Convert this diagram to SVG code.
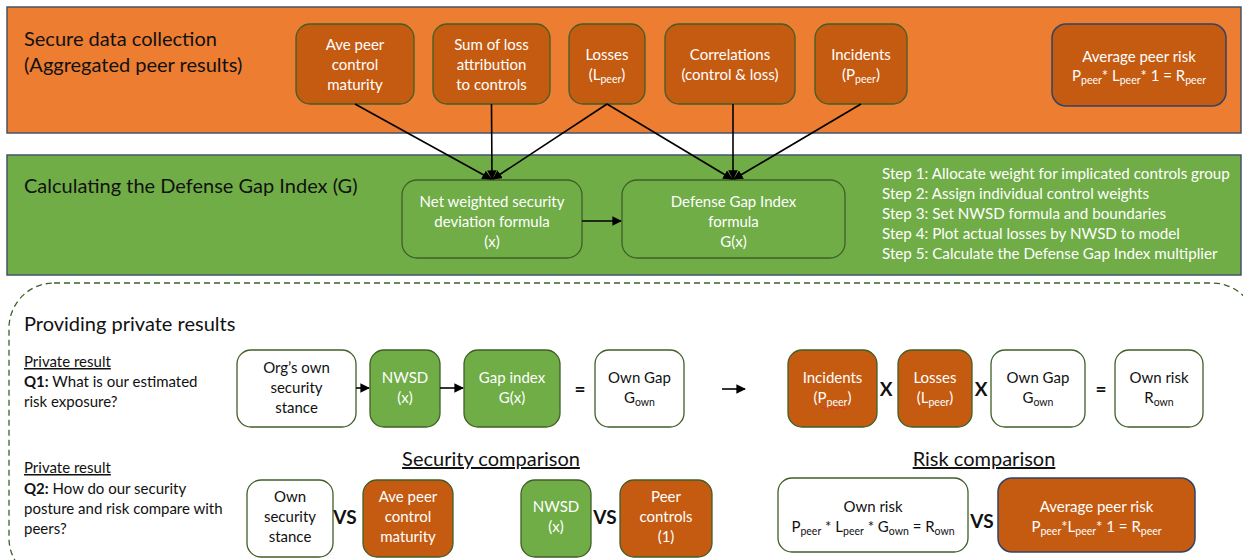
<svg xmlns="http://www.w3.org/2000/svg" width="1243" height="560" viewBox="0 0 1243 560">
  <style>
    text { font-family: Lato, "Open Sans", "Liberation Sans", sans-serif; }
    .band-title { font-size: 20px; fill: #111; }
    .node-txt { font-size: 15px; fill: #fff; text-anchor: middle; }
    .node-dark { font-size: 15px; fill: #111; text-anchor: middle; }
    .step { font-size: 15.2px; fill: #fff; }
    .side { font-size: 15px; fill: #111; }
    .op { font-size: 19px; font-weight: bold; fill: #111; text-anchor: middle; }
    .sub { font-size: 10.5px; }
    .n-orange { fill: #C55A11; stroke: #3F5F27; stroke-width: 1.3; }
    .n-orange-b { fill: #C55A11; stroke: #2F4468; stroke-width: 1.5; }
    .n-green { fill: #70AD47; stroke: #3F5F27; stroke-width: 1.3; }
    .n-white { fill: #fff; stroke: #3F5F27; stroke-width: 1.3; }
    .conn { stroke: #000; stroke-width: 1.6; fill: none; }
  </style>
  <defs>
    <marker id="arr" viewBox="0 0 10 10" refX="9" refY="5" markerWidth="6" markerHeight="6" orient="auto-start-reverse">
      <path d="M0,0 L10,5 L0,10 z" fill="#000"/>
    </marker>
  </defs>

  <rect width="1243" height="560" fill="#fff"/>

  <!-- band: secure data collection -->
  <g id="band-collection">
    <rect x="7" y="7" width="1234" height="126" fill="#ED7D31" stroke="#44546A" stroke-width="1.5"/>
    <text class="band-title" x="24" y="46">Secure data collection</text>
    <text class="band-title" x="24" y="72">(Aggregated peer results)</text>
  </g>

  <!-- band: defense gap index -->
  <g id="band-calc">
    <rect x="7" y="155" width="1234" height="120" fill="#70AD47" stroke="#44546A" stroke-width="1.5"/>
    <text class="band-title" x="24" y="193">Calculating the Defense Gap Index (G)</text>
  </g>

  <!-- private results frame -->
  <g id="frame-private">
    <rect x="9" y="283" width="1248" height="300" rx="45" fill="none" stroke="#3F5F27" stroke-width="1.3" stroke-dasharray="6 4"/>
    <text class="band-title" x="24" y="331">Providing private results</text>
  </g>

  <!-- peer inputs -->
  <g id="n-ave-peer">
    <rect class="n-orange" x="296" y="24" width="118" height="80" rx="14"/>
    <text class="node-txt" x="355" y="50">Ave peer</text>
    <text class="node-txt" x="355" y="70">control</text>
    <text class="node-txt" x="355" y="90">maturity</text>
  </g>
  <g id="n-sum-loss">
    <rect class="n-orange" x="433" y="24" width="117" height="80" rx="14"/>
    <text class="node-txt" x="491.5" y="50">Sum of loss</text>
    <text class="node-txt" x="491.5" y="70">attribution</text>
    <text class="node-txt" x="491.5" y="90">to controls</text>
  </g>
  <g id="n-losses">
    <rect class="n-orange" x="569" y="24" width="76" height="80" rx="14"/>
    <text class="node-txt" x="607" y="60">Losses</text>
    <text class="node-txt" x="607" y="80">(L<tspan class="sub" dy="3">peer</tspan><tspan dy="-3">)</tspan></text>
  </g>
  <g id="n-correlations">
    <rect class="n-orange" x="665" y="24" width="130" height="80" rx="14"/>
    <text class="node-txt" x="730" y="60">Correlations</text>
    <text class="node-txt" x="730" y="80">(control &amp; loss)</text>
  </g>
  <g id="n-incidents">
    <rect class="n-orange" x="815" y="24" width="92" height="80" rx="14"/>
    <text class="node-txt" x="861" y="60">Incidents</text>
    <text class="node-txt" x="861" y="80">(P<tspan class="sub" dy="3">peer</tspan><tspan dy="-3">)</tspan></text>
  </g>
  <g id="n-avg-peer-risk">
    <rect class="n-orange-b" x="1052" y="24" width="174" height="82" rx="14"/>
    <text class="node-txt" x="1139" y="62">Average peer risk</text>
    <text class="node-txt" x="1139" y="81">P<tspan class="sub" dy="3">peer</tspan><tspan dy="-3">* L</tspan><tspan class="sub" dy="3">peer</tspan><tspan dy="-3">* 1 = R</tspan><tspan class="sub" dy="3">peer</tspan></text>
  </g>

  <!-- calculation nodes -->
  <g id="n-nwsd-formula">
    <rect class="n-green" x="402" y="180" width="180" height="78" rx="15"/>
    <text class="node-txt" x="492" y="207">Net weighted security</text>
    <text class="node-txt" x="492" y="227">deviation formula</text>
    <text class="node-txt" x="492" y="247">(x)</text>
  </g>
  <g id="n-dgi-formula">
    <rect class="n-green" x="622" y="180" width="223" height="78" rx="15"/>
    <text class="node-txt" x="733.5" y="207">Defense Gap Index</text>
    <text class="node-txt" x="733.5" y="227">formula</text>
    <text class="node-txt" x="733.5" y="247">G(x)</text>
  </g>
  <g id="steps">
    <text class="step" x="882" y="179">Step 1: Allocate weight for implicated controls group</text>
    <text class="step" x="882" y="199">Step 2: Assign individual control weights</text>
    <text class="step" x="882" y="219">Step 3: Set NWSD formula and boundaries</text>
    <text class="step" x="882" y="239">Step 4: Plot actual losses by NWSD to model</text>
    <text class="step" x="882" y="259">Step 5: Calculate the Defense Gap Index multiplier</text>
  </g>

  <!-- Q1 row -->
  <g id="q1-label">
    <text class="side" x="24" y="367" text-decoration="underline">Private result</text>
    <text class="side" x="24" y="387"><tspan font-weight="bold">Q1:</tspan> What is our estimated</text>
    <text class="side" x="24" y="407">risk exposure?</text>
  </g>
  <g id="n-own-stance">
    <rect class="n-white" x="237" y="350" width="119" height="77" rx="14"/>
    <text class="node-dark" x="296.5" y="373">Org’s own</text>
    <text class="node-dark" x="296.5" y="393">security</text>
    <text class="node-dark" x="296.5" y="413">stance</text>
  </g>
  <g id="n-nwsd-1">
    <rect class="n-green" x="370" y="350" width="70" height="77" rx="14"/>
    <text class="node-txt" x="405" y="383">NWSD</text>
    <text class="node-txt" x="405" y="403">(x)</text>
  </g>
  <g id="n-gap-index">
    <rect class="n-green" x="464" y="350" width="96" height="77" rx="14"/>
    <text class="node-txt" x="512" y="383">Gap index</text>
    <text class="node-txt" x="512" y="403">G(x)</text>
  </g>
  <text class="op" x="580" y="396">=</text>
  <g id="n-own-gap-1">
    <rect class="n-white" x="595" y="350" width="89" height="77" rx="14"/>
    <text class="node-dark" x="639.5" y="383">Own Gap</text>
    <text class="node-dark" x="639.5" y="403">G<tspan class="sub" dy="3">own</tspan></text>
  </g>
  <g id="n-incidents-q1">
    <rect class="n-orange" x="788" y="350" width="89" height="77" rx="14"/>
    <text class="node-txt" x="832.5" y="383">Incidents</text>
    <text class="node-txt" x="832.5" y="403">(P<tspan class="sub" dy="3">peer</tspan><tspan dy="-3">)</tspan></text>
    <path d="M821,408 q1.5,-2 3,0 t3,0 t3,0 t3,0 t3,0 t3,0 t3,0 t3,0" fill="none" stroke="#E0302A" stroke-width="0.8"/>
  </g>
  <text class="op" x="886" y="396">X</text>
  <g id="n-losses-q1">
    <rect class="n-orange" x="898" y="350" width="74" height="77" rx="14"/>
    <text class="node-txt" x="935" y="383">Losses</text>
    <text class="node-txt" x="935" y="403">(L<tspan class="sub" dy="3">peer</tspan><tspan dy="-3">)</tspan></text>
  </g>
  <text class="op" x="981" y="396">X</text>
  <g id="n-own-gap-2">
    <rect class="n-white" x="991" y="350" width="94" height="77" rx="14"/>
    <text class="node-dark" x="1038" y="383">Own Gap</text>
    <text class="node-dark" x="1038" y="403">G<tspan class="sub" dy="3">own</tspan></text>
  </g>
  <text class="op" x="1101" y="396">=</text>
  <g id="n-own-risk">
    <rect class="n-white" x="1115" y="350" width="88" height="77" rx="14"/>
    <text class="node-dark" x="1159" y="383">Own risk</text>
    <text class="node-dark" x="1159" y="403">R<tspan class="sub" dy="3">own</tspan></text>
  </g>

  <!-- Q2 row -->
  <g id="q2-label">
    <text class="side" x="24" y="473" text-decoration="underline">Private result</text>
    <text class="side" x="24" y="494"><tspan font-weight="bold">Q2:</tspan> How do our security</text>
    <text class="side" x="24" y="514">posture and risk compare with</text>
    <text class="side" x="24" y="534">peers?</text>
  </g>
  <text class="band-title" x="491" y="466" text-anchor="middle" text-decoration="underline">Security comparison</text>
  <text class="band-title" x="984" y="466" text-anchor="middle" text-decoration="underline">Risk comparison</text>

  <g id="n-own-stance-2">
    <rect class="n-white" x="247" y="480" width="86" height="77" rx="14"/>
    <text class="node-dark" x="290" y="502">Own</text>
    <text class="node-dark" x="290" y="522">security</text>
    <text class="node-dark" x="290" y="542">stance</text>
  </g>
  <text class="op" x="345" y="524">VS</text>
  <g id="n-ave-peer-2">
    <rect class="n-orange" x="363" y="480" width="90" height="77" rx="14"/>
    <text class="node-txt" x="408" y="502">Ave peer</text>
    <text class="node-txt" x="408" y="522">control</text>
    <text class="node-txt" x="408" y="542">maturity</text>
  </g>
  <g id="n-nwsd-2">
    <rect class="n-green" x="521" y="480" width="70" height="77" rx="14"/>
    <text class="node-txt" x="556" y="512">NWSD</text>
    <text class="node-txt" x="556" y="532">(x)</text>
  </g>
  <text class="op" x="605" y="524">VS</text>
  <g id="n-peer-controls">
    <rect class="n-orange" x="620" y="480" width="92" height="77" rx="14"/>
    <text class="node-txt" x="666" y="502">Peer</text>
    <text class="node-txt" x="666" y="522">controls</text>
    <text class="node-txt" x="666" y="542">(1)</text>
  </g>
  <g id="n-own-risk-2">
    <rect class="n-white" x="778" y="478" width="190" height="74" rx="14"/>
    <text class="node-dark" x="873" y="512">Own risk</text>
    <text class="node-dark" x="873" y="532">P<tspan class="sub" dy="3">peer</tspan><tspan dy="-3"> * L</tspan><tspan class="sub" dy="3">peer</tspan><tspan dy="-3"> * G</tspan><tspan class="sub" dy="3">own</tspan><tspan dy="-3"> = R</tspan><tspan class="sub" dy="3">own</tspan></text>
  </g>
  <text class="op" x="982" y="528">VS</text>
  <g id="n-avg-peer-risk-2">
    <rect class="n-orange-b" x="998" y="478" width="197" height="74" rx="14"/>
    <text class="node-txt" x="1096.5" y="512">Average peer risk</text>
    <text class="node-txt" x="1096.5" y="532">P<tspan class="sub" dy="3">peer</tspan><tspan dy="-3">*L</tspan><tspan class="sub" dy="3">peer</tspan><tspan dy="-3">* 1 = R</tspan><tspan class="sub" dy="3">peer</tspan></text>
  </g>

  <!-- connectors -->
  <g id="connectors">
    <line class="conn" x1="355" y1="104" x2="491" y2="179" marker-end="url(#arr)"/>
    <line class="conn" x1="491.5" y1="104" x2="492" y2="179" marker-end="url(#arr)"/>
    <line class="conn" x1="607" y1="104" x2="493" y2="179" marker-end="url(#arr)"/>
    <line class="conn" x1="607" y1="104" x2="732" y2="179" marker-end="url(#arr)"/>
    <line class="conn" x1="733" y1="104" x2="733" y2="179" marker-end="url(#arr)"/>
    <line class="conn" x1="861" y1="104" x2="734" y2="179" marker-end="url(#arr)"/>
    <line class="conn" x1="582" y1="221" x2="621" y2="221" marker-end="url(#arr)"/>
    <line class="conn" x1="356" y1="388" x2="369" y2="388" marker-end="url(#arr)"/>
    <line class="conn" x1="440" y1="388" x2="463" y2="388" marker-end="url(#arr)"/>
    <line class="conn" x1="722" y1="389" x2="745" y2="389" marker-end="url(#arr)"/>
  </g>
</svg>
